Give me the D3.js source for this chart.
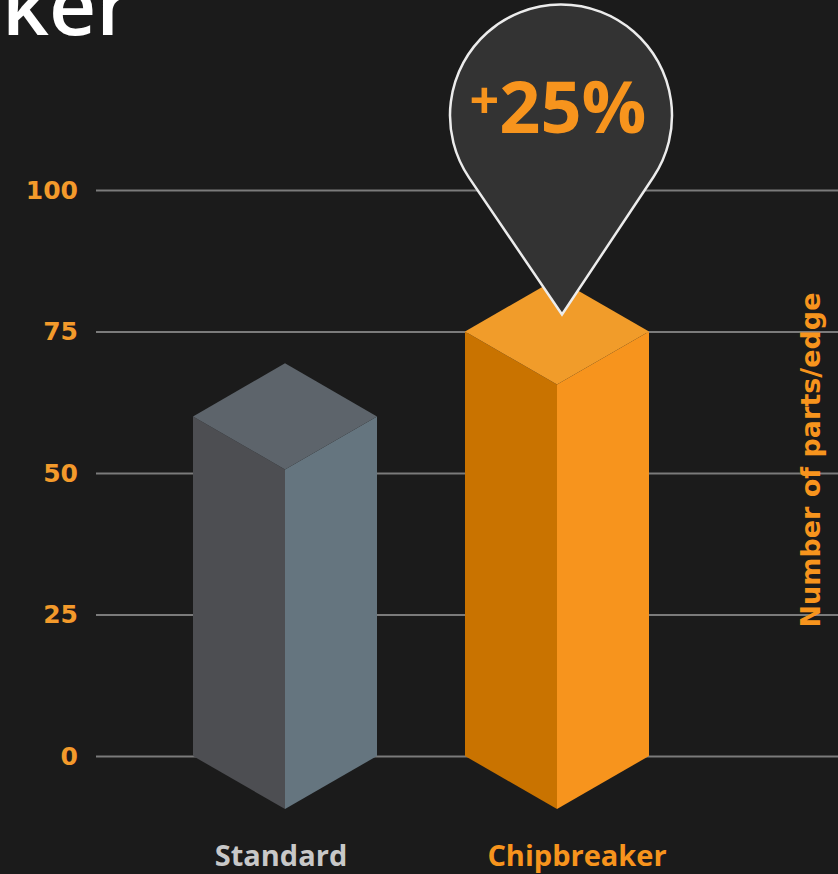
<!DOCTYPE html>
<html>
<head>
<meta charset="utf-8">
<script src="https://cdn.jsdelivr.net/npm/d3@7"></script>
<style>
  html, body { margin: 0; padding: 0; background: #1b1b1b; }
  svg { display: block; }
</style>
</head>
<body>
<svg id="chart" width="838" height="874"></svg>
<script>
const categories = ["Standard", "Chipbreaker"];
const values = [60, 75];
const yTicks = [0, 25, 50, 75, 100];
const increaseLabel = "25%";
const axisTitle = "Number of parts/edge";

const palette = {
    Standard: { left: "#4d4e52", right: "#65757f", top: "#5d646b", label: "#c8c8c8" },
    Chipbreaker: { left: "#c97300", right: "#f7941d", top: "#f19c2a", label: "#f7941d" }
};
const orange = "#f7941d";

const svg = d3.select("#chart");

svg.append("rect")
    .attr("width", 838)
    .attr("height", 874)
    .attr("fill", "#1b1b1b");

// cropped title
svg.append("text")
    .attr("x", 2)
    .attr("y", 35)
    .attr("fill", "#ffffff")
    .attr("font-family", "Open Sans")
    .attr("font-weight", 600)
    .attr("font-size", 82)
    .text("ker");

const yScale = d3.scaleLinear()
    .domain([0, 100])
    .range([756, 190]);

const xScale = d3.scaleBand()
    .domain(categories)
    .range([193, 649])
    .paddingInner(88 / 272)
    .paddingOuter(0);

const yAxis = svg.append("g")
    .attr("transform", "translate(838,0)")
    .call(d3.axisLeft(yScale).tickValues(yTicks).tickSize(742).tickPadding(18));

yAxis.select(".domain").remove();
yAxis.selectAll(".tick line")
    .attr("stroke", "#7b7b7b")
    .attr("stroke-width", 2);
yAxis.selectAll(".tick text")
    .attr("fill", "#f39a2b")
    .attr("font-family", "DejaVu Sans")
    .attr("font-weight", 700)
    .attr("font-size", 25);

// isometric prisms
const half = xScale.bandwidth() / 2;
const depth = half * Math.tan(Math.PI / 6);
const y0 = yScale(0);

const bars = svg.selectAll(".bar")
    .data(categories.map((c, i) => ({ cat: c, value: values[i] })))
    .join("g")
    .attr("class", "bar");

function poly(pts) {
    return "M" + pts.map(p => p.join(",")).join("L") + "Z";
}

bars.append("path")
    .attr("fill", d => palette[d.cat].left)
    .attr("d", d => {
        const cx = xScale(d.cat) + half, yt = yScale(d.value);
        return poly([[cx - half, yt], [cx, yt + depth], [cx, y0 + depth], [cx - half, y0]]);
    });

bars.append("path")
    .attr("fill", d => palette[d.cat].right)
    .attr("d", d => {
        const cx = xScale(d.cat) + half, yt = yScale(d.value);
        return poly([[cx, yt + depth], [cx + half, yt], [cx + half, y0], [cx, y0 + depth]]);
    });

bars.append("path")
    .attr("fill", d => palette[d.cat].top)
    .attr("d", d => {
        const cx = xScale(d.cat) + half, yt = yScale(d.value);
        return poly([[cx - half, yt], [cx, yt - depth], [cx + half, yt], [cx, yt + depth]]);
    });

// category labels
svg.selectAll(".cat-label")
    .data(categories)
    .join("text")
    .attr("class", "cat-label")
    .attr("x", d => xScale(d) + half + (d === "Chipbreaker" ? 20 : -4))
    .attr("y", 866)
    .attr("text-anchor", "middle")
    .attr("fill", d => palette[d].label)
    .attr("font-family", "Open Sans")
    .attr("font-weight", 700)
    .attr("font-size", 29)
    .text(d => d);

// right axis title
svg.append("text")
    .attr("transform", "translate(820,460) rotate(-90)")
    .attr("text-anchor", "middle")
    .attr("fill", orange)
    .attr("font-family", "DejaVu Sans")
    .attr("font-weight", 700)
    .attr("font-size", 27)
    .text(axisTitle);

// pin marker above the chipbreaker bar
const tipX = xScale("Chipbreaker") + half + 5;
const tipY = yScale(values[1]) - 17;
const r = 111;
const cx = tipX - 1;
const cy = tipY - 199;
const dist = Math.hypot(tipX - cx, tipY - cy);
const theta = Math.acos(r / dist);
const base = Math.atan2(tipY - cy, tipX - cx);
const a1 = base + theta, a2 = base - theta;
const p1 = [cx + r * Math.cos(a1), cy + r * Math.sin(a1)];
const p2 = [cx + r * Math.cos(a2), cy + r * Math.sin(a2)];

svg.append("path")
    .attr("fill", "#333333")
    .attr("stroke", "#ececec")
    .attr("stroke-width", 2.5)
    .attr("d", `M${tipX},${tipY}L${p1[0]},${p1[1]}A${r},${r} 0 1 1 ${p2[0]},${p2[1]}Z`);

const pinText = svg.append("text")
    .attr("x", cx - 3)
    .attr("y", 133)
    .attr("text-anchor", "middle")
    .attr("fill", orange)
    .attr("font-family", "Open Sans")
    .attr("font-weight", 700);

pinText.append("tspan")
    .attr("font-size", 52)
    .attr("dy", -14)
    .text("+");
pinText.append("tspan")
    .attr("font-size", 72)
    .attr("dy", 14)
    .text(increaseLabel);
</script>
</body>
</html>
